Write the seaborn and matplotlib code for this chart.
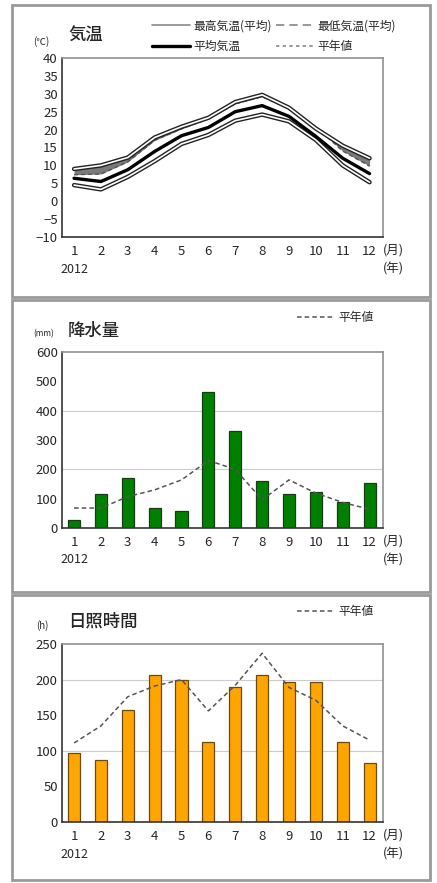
import matplotlib
matplotlib.use("Agg")
import matplotlib.pyplot as plt
import matplotlib.patheffects as pe
from matplotlib.lines import Line2D
from matplotlib.patches import Rectangle
import seaborn as sns
import pandas as pd

months = list(range(1, 13))

# temperature (degC)
max_temp = [9.0, 10.0, 12.2, 17.8, 20.8, 23.3, 27.7, 29.7, 26.1, 20.3, 15.5, 12.0]
mean_temp = [6.4, 5.5, 8.8, 13.9, 18.3, 20.6, 25.0, 26.7, 23.7, 18.1, 12.0, 7.7]
min_temp = [4.5, 3.3, 6.8, 11.2, 16.0, 18.5, 22.5, 24.2, 22.3, 17.1, 10.0, 5.3]
normal_max = [7.4, 7.6, 11.0, 17.0, 20.2, 23.0, 27.2, 29.2, 25.8, 20.8, 14.0, 9.8]

# precipitation (mm)
precip = [28, 117, 170, 68, 59, 463, 331, 160, 117, 122, 87, 152]
precip_normal = [68, 68, 107, 130, 164, 230, 200, 96, 164, 119, 87, 64]

# sunshine (h)
sun = [97, 87, 158, 206, 200, 113, 190, 206, 196, 196, 113, 83]
sun_normal = [111, 135, 176, 191, 200, 156, 192, 237, 189, 171, 135, 115]

sns.set_style("white")
plt.rcParams["font.family"] = ["Noto Sans CJK JP", "DejaVu Sans"]

W, H = 437, 883
fig = plt.figure(figsize=(W / 100, H / 100), dpi=100)


def fx(px):
    return px / W


def fy(py):
    return 1 - py / H


# panel frames
for top, bot in [(5, 297), (300, 592), (595, 880)]:
    fig.patches.append(Rectangle((fx(12), fy(bot)), fx(430) - fx(12), fy(top) - fy(bot),
                                 transform=fig.transFigure, fill=False,
                                 edgecolor="#9a9a9a", lw=2))


def make_axes(top, bot):
    ax = fig.add_axes([fx(62), fy(bot), fx(383) - fx(62), fy(top) - fy(bot)])
    for s in ["top", "right"]:
        ax.spines[s].set_color("#909090")
    for s in ["left", "bottom"]:
        ax.spines[s].set_color("#333333")
    for s in ax.spines.values():
        s.set_linewidth(1.2)
    ax.tick_params(axis="x", direction="inout", length=8, width=1, color="#333333",
                   pad=1.5, labelsize=9.5)
    ax.tick_params(axis="y", direction="in", length=3, width=1, labelsize=9.5, pad=3)
    tr = ax.get_xaxis_transform()
    ax.text(1, -0.18, "2012", transform=tr, ha="center", va="center", fontsize=9)
    ax.text(12.5, -0.072, "(月)", transform=tr, ha="left", va="center", fontsize=9)
    ax.text(12.5, -0.18, "(年)", transform=tr, ha="left", va="center", fontsize=9)
    return ax


def finish_x(ax):
    ax.set_xlim(0.55, 12.5)
    ax.set_xticks(months)
    ax.set_xticklabels([str(m) for m in months])
    ax.set_xlabel("")
    ax.set_ylabel("")


# ---- temperature
ax1 = make_axes(58, 237)
df_t = pd.DataFrame({"month": months, "max": max_temp, "mean": mean_temp,
                     "min": min_temp, "nmax": normal_max})
ax1.fill_between(df_t["month"], df_t["max"], df_t["nmax"], color="#7a7a7a", lw=0)
sns.lineplot(data=df_t, x="month", y="nmax", ax=ax1, color="#555555", lw=1, linestyle=(0, (3, 2)))
hollow = [pe.Stroke(linewidth=3.2, foreground="#222222"), pe.Normal()]
sns.lineplot(data=df_t, x="month", y="max", ax=ax1, color="white", lw=1.2, path_effects=hollow)
sns.lineplot(data=df_t, x="month", y="min", ax=ax1, color="white", lw=1.2, path_effects=hollow)
sns.lineplot(data=df_t, x="month", y="mean", ax=ax1, color="black", lw=2.4)
ax1.set_ylim(-10, 40)
ax1.set_yticks(range(-10, 41, 5))
ax1.set_yticklabels([str(v).replace("-", "−") for v in range(-10, 41, 5)])
finish_x(ax1)
fig.text(fx(33), fy(42), "(℃)", fontsize=7, va="center")
fig.text(fx(68), fy(36), "気温", fontsize=12.5, va="center", fontweight="medium")
handles = [
    Line2D([], [], color="#888888", lw=1.2),
    Line2D([], [], color="black", lw=2.4),
    Line2D([], [], color="#888888", lw=1.2, linestyle=(0, (5, 3))),
    Line2D([], [], color="#888888", lw=1.2, linestyle=(0, (2, 2))),
]
labels = ["最高気温(平均)", "平均気温", "最低気温(平均)", "平年値"]
fig.legend(handles, labels, ncol=2, loc="center", bbox_to_anchor=(fx(274), fy(36)),
           frameon=False, fontsize=8.5, handlelength=3.2, handletextpad=0.3,
           columnspacing=0.3, labelspacing=0.65, borderaxespad=0)

# ---- precipitation
ax2 = make_axes(352, 528)
df_p = pd.DataFrame({"month": months, "precip": precip, "normal": precip_normal})
sns.barplot(data=df_p, x="month", y="precip", ax=ax2, native_scale=True, width=0.45,
            color="#008000", saturation=1, edgecolor="#173d17", linewidth=0.9)
sns.lineplot(data=df_p, x="month", y="normal", ax=ax2, color="#555555", lw=1.1,
             linestyle=(0, (3, 2)))
ax2.set_ylim(0, 600)
ax2.set_yticks(range(0, 601, 100))
for v in [200, 400]:
    ax2.axhline(v, color="#cccccc", lw=0.8, zorder=0)
finish_x(ax2)
fig.text(fx(33), fy(334), "(mm)", fontsize=6, va="center")
fig.text(fx(68), fy(331), "降水量", fontsize=12.5, va="center", fontweight="medium")
fig.legend([Line2D([], [], color="#555555", lw=1.1, linestyle=(0, (3, 2)))], ["平年値"],
           loc="center", bbox_to_anchor=(fx(335), fy(318)), frameon=False, fontsize=8.5,
           handlelength=3.2, handletextpad=0.3, borderaxespad=0)

# ---- sunshine
ax3 = make_axes(644, 822)
df_s = pd.DataFrame({"month": months, "sun": sun, "normal": sun_normal})
sns.barplot(data=df_s, x="month", y="sun", ax=ax3, native_scale=True, width=0.45,
            color="#ffa500", saturation=1, edgecolor="#6b4a10", linewidth=0.9)
sns.lineplot(data=df_s, x="month", y="normal", ax=ax3, color="#555555", lw=1.1,
             linestyle=(0, (3, 2)))
ax3.set_ylim(0, 250)
ax3.set_yticks(range(0, 251, 50))
for v in [100, 200]:
    ax3.axhline(v, color="#cccccc", lw=0.8, zorder=0)
finish_x(ax3)
fig.text(fx(36), fy(626), "(h)", fontsize=7, va="center")
fig.text(fx(68), fy(622), "日照時間", fontsize=12.5, va="center", fontweight="medium")
fig.legend([Line2D([], [], color="#555555", lw=1.1, linestyle=(0, (3, 2)))], ["平年値"],
           loc="center", bbox_to_anchor=(fx(335), fy(612)), frameon=False, fontsize=8.5,
           handlelength=3.2, handletextpad=0.3, borderaxespad=0)

fig.savefig("out.png", dpi=100)
